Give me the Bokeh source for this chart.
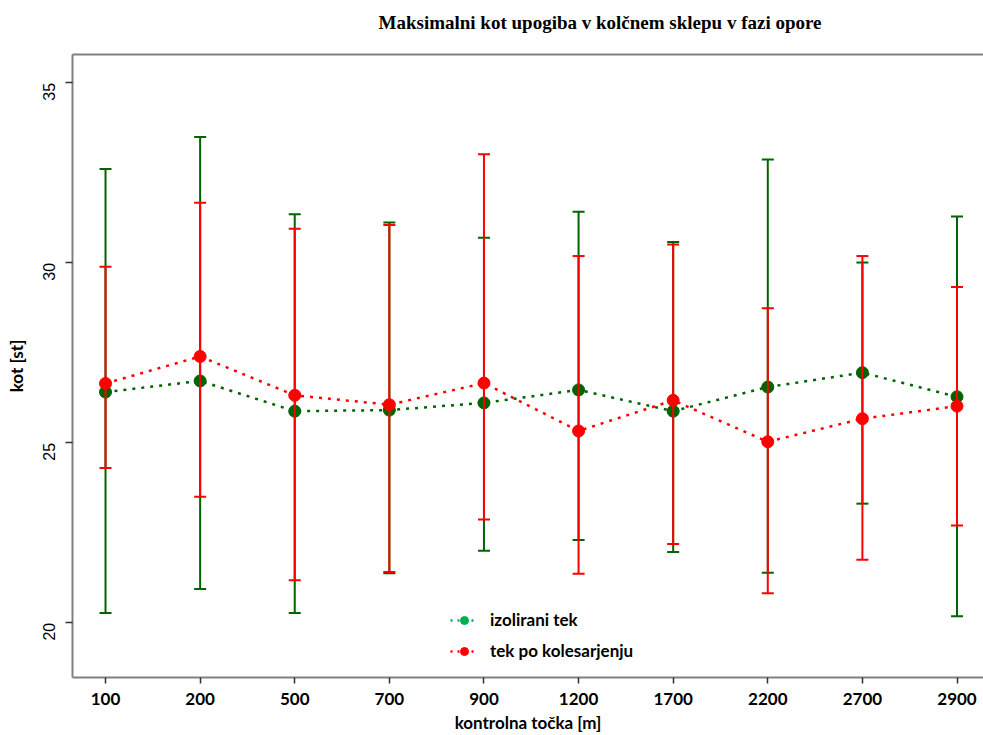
import math
from bokeh.plotting import figure
from bokeh.models import (ColumnDataSource, FixedTicker, LinearAxis, Range1d,
                          Legend, LegendItem)
from bokeh.embed import file_html
from bokeh.resources import INLINE

# ---- data ----
x_labels = ["100", "200", "500", "700", "900", "1200", "1700", "2200", "2700", "2900"]
izo_mean = [26.41, 26.72, 25.88, 25.91, 26.11, 26.47, 25.88, 26.55, 26.95, 26.28]
izo_upper = [32.61, 33.50, 31.35, 31.12, 30.70, 31.42, 30.58, 32.87, 30.01, 31.29]
izo_lower = [20.27, 20.94, 20.27, 21.38, 22.00, 22.30, 21.97, 21.39, 23.31, 20.18]
kol_mean = [26.65, 27.40, 26.32, 26.06, 26.66, 25.33, 26.18, 25.03, 25.67, 26.02]
kol_upper = [29.89, 31.67, 30.95, 31.05, 33.02, 30.19, 30.51, 28.74, 30.19, 29.33]
kol_lower = [24.30, 23.50, 21.18, 21.41, 22.87, 21.36, 22.19, 20.82, 21.75, 22.70]
y_ticks = [20, 25, 30, 35]

title_text = "Maksimalni kot upogiba v kolčnem sklepu v fazi opore"
x_title = "kontrolna točka [m]"
y_title = "kot [st]"
names = ["izolirani tek", "tek po kolesarjenju"]

GREEN = "#006400"
GREEN_LEG = "#00b050"
RED = "#ff0000"
AXIS_GRAY = "#808080"

xs = list(range(len(x_labels)))

p = figure(width=983, height=735, output_backend="svg", toolbar_location=None,
           x_range=Range1d(-0.349, 9.28), y_range=Range1d(18.48, 35.79),
           min_border_left=72, min_border_right=0, min_border_top=54,
           min_border_bottom=58)
p.outline_line_color = None
p.xgrid.visible = False
p.ygrid.visible = False
p.background_fill_color = "white"
p.border_fill_color = "white"

# title
p.title.text = title_text
p.title.text_font = "Liberation Serif"
p.title.text_font_style = "bold"
p.title.text_font_size = "19px"
p.title.text_color = "#000000"
p.title.align = "left"
p.title.offset = 306
p.title.standoff = 10

# axes
xa = p.xaxis[0]
xa.ticker = FixedTicker(ticks=xs)
xa.major_label_overrides = {i: lab for i, lab in zip(xs, x_labels)}
xa.minor_tick_line_color = None
xa.axis_label = x_title
ya = p.yaxis[0]
ya.ticker = FixedTicker(ticks=y_ticks)
ya.minor_tick_line_color = None
ya.axis_label = y_title
ya.major_label_orientation = math.pi / 2

for ax in (xa, ya):
    ax.axis_line_color = AXIS_GRAY
    ax.axis_line_width = 2
    ax.major_tick_line_color = "#333333"
    ax.major_tick_line_width = 1.5
    ax.major_tick_in = 0
    ax.axis_label_text_font = "Lato"
    ax.axis_label_text_font_style = "bold"
    ax.axis_label_text_font_size = "17px"
    ax.axis_label_text_color = "#000000"
    ax.major_label_text_color = "#000000"

xa.major_tick_out = 6
xa.major_label_text_font = "Lato"
xa.major_label_text_font_style = "bold"
xa.major_label_text_font_size = "17px"
xa.major_label_standoff = 9
xa.axis_label_standoff = 4

ya.major_tick_out = 7
ya.major_label_text_font = "Liberation Sans"
ya.major_label_text_font_size = "16px"
ya.major_label_standoff = 16
ya.axis_label_standoff = 8

# top border as an axis with one invisible tick (its extent spaces the title)
top = LinearAxis(ticker=FixedTicker(ticks=[xs[0]]), axis_line_color=AXIS_GRAY,
                 axis_line_width=2, major_tick_out=17, major_tick_in=0,
                 major_tick_line_color=None, minor_tick_out=0,
                 minor_tick_line_color=None, major_label_standoff=0,
                 major_label_overrides={xs[0]: ""},
                 major_label_text_font_size="0px")
p.add_layout(top, "above")

# sources
src_i = ColumnDataSource(dict(x=xs, m=izo_mean, up=izo_upper, lo=izo_lower))
src_k = ColumnDataSource(dict(x=xs, m=kol_mean, up=kol_upper, lo=kol_lower))

def draw(src, color):
    p.segment(x0="x", y0="lo", x1="x", y1="up", source=src,
              line_color=color, line_width=2)
    p.scatter(x="x", y="up", source=src, marker="dash", size=12,
              line_color=color, line_width=2)
    p.scatter(x="x", y="lo", source=src, marker="dash", size=12,
              line_color=color, line_width=2)
    p.line(x="x", y="m", source=src, line_color=color, line_width=2.5,
           line_dash="3 6")
    p.scatter(x="x", y="m", source=src, marker="circle", size=12,
              fill_color=color, line_color=color)

draw(src_i, GREEN)
draw(src_k, RED)

# legend proxies (no visible data)
nan = float("nan")
leg_items = []
for name, col in zip(names, [GREEN_LEG, RED]):
    s = ColumnDataSource(dict(x=[nan], y=[nan]))
    lr = p.line(x="x", y="y", source=s, line_color=col, line_width=2.5,
                line_dash="2 5")
    sr = p.scatter(x="x", y="y", source=s, marker="circle", size=8,
                   fill_color=col, line_color=col)
    leg_items.append(LegendItem(label=name, renderers=[lr, sr], index=0))

legend = Legend(items=leg_items, location=(378, 16), padding=0, margin=0,
                spacing=10, glyph_width=28, glyph_height=20, label_standoff=12,
                label_text_font="Lato", label_text_font_style="bold",
                label_text_font_size="17px", label_text_color="#000000",
                border_line_color=None, background_fill_alpha=0)
p.add_layout(legend, "center")

open("out.html", "w").write(file_html(p, INLINE))
